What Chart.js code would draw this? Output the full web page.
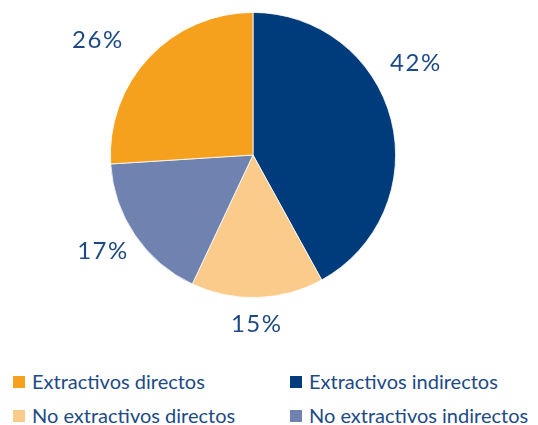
<!DOCTYPE html>
<html>
<head>
<meta charset="utf-8">
<script src="https://cdn.jsdelivr.net/npm/chart.js@4"></script>
<style>
  body { margin: 0; background: #fff; font-family: Lato, 'Noto Sans', sans-serif; }
  #wrap { position: relative; width: 538px; height: 425px; }
  #chart-box { position: absolute; left: 0; top: 0; width: 538px; height: 350px; }
  #legend { position: absolute; left: 13px; top: 370px; width: 525px;
    display: grid; grid-template-columns: 277px 248px; row-gap: 11px; }
  .item { display: flex; align-items: center; color: #1d4a86; font-size: 20px; line-height: 23px; white-space: nowrap; }
  .sw { width: 12px; height: 12px; margin-right: 7px; flex: none; }
</style>
</head>
<body>
<div id="wrap">
  <div id="chart-box"><canvas id="pie"></canvas></div>
  <div id="legend"></div>
</div>
<script>
// slices, clockwise from 12 o'clock
const labels = ['Extractivos indirectos', 'No extractivos directos', 'No extractivos indirectos', 'Extractivos directos'];
const values = [42, 15, 17, 26];
const colors = ['#003c7c', '#fbcb8b', '#7083b0', '#f5a11e'];
// legend reading order (two columns)
const legendOrder = ['Extractivos directos', 'Extractivos indirectos', 'No extractivos directos', 'No extractivos indirectos'];

// per-slice nudge for the outside % labels
const labelNudge = [[-14, -46], [-2, -13], [1, -6], [-22, 10]];

const outsideLabels = {
  id: 'outsideLabels',
  afterDatasetsDraw(chart) {
    const ctx = chart.ctx;
    const meta = chart.getDatasetMeta(0);
    ctx.save();
    ctx.font = '24px Lato, "Noto Sans", sans-serif';
    ctx.letterSpacing = '1.5px';
    ctx.fillStyle = '#1d4a86';
    ctx.textAlign = 'center';
    ctx.textBaseline = 'middle';
    meta.data.forEach((arc, i) => {
      const mid = (arc.startAngle + arc.endAngle) / 2;
      const d = arc.outerRadius + 40;
      const x = arc.x + Math.cos(mid) * d + labelNudge[i][0];
      const y = arc.y + Math.sin(mid) * d + labelNudge[i][1];
      ctx.fillText(values[i] + '%', x, y);
    });
    ctx.restore();
  }
};

new Chart(document.getElementById('pie'), {
  type: 'pie',
  data: {
    labels,
    datasets: [{
      data: values,
      backgroundColor: colors,
      borderColor: '#ffffff',
      borderWidth: 0.8,
    }],
  },
  options: {
    responsive: true,
    maintainAspectRatio: false,
    animation: false,
    layout: { padding: { top: 12, bottom: 52, left: 0, right: 32 } },
    plugins: { legend: { display: false }, tooltip: { enabled: false } },
  },
  plugins: [outsideLabels],
});

document.getElementById('legend').innerHTML = legendOrder.map(name => {
  const c = colors[labels.indexOf(name)];
  return `<div class="item"><span class="sw" style="background:${c}"></span>${name}</div>`;
}).join('');
</script>
</body>
</html>
